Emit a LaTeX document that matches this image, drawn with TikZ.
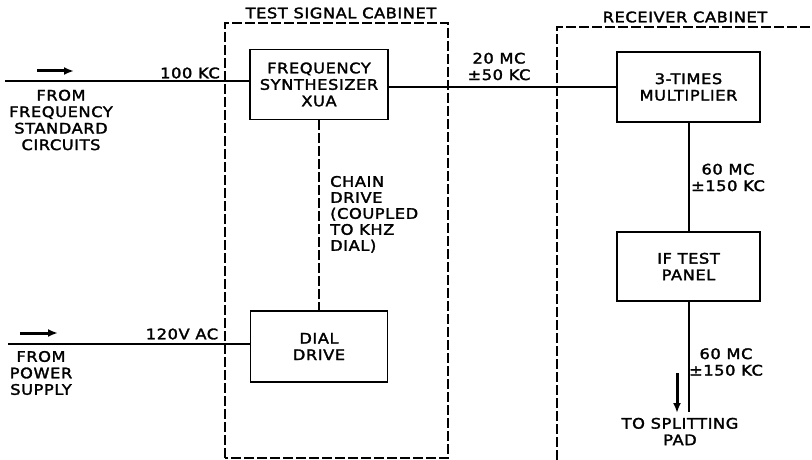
\documentclass[tikz,border=0pt]{standalone}
\usepackage{fontspec}
\setmainfont{DejaVu Sans}[FakeStretch=1.12, LetterSpace=4, FakeBold=2]
\usetikzlibrary{arrows.meta}
\begin{document}
\begin{tikzpicture}[x=1pt,y=-1pt,
  every node/.style={font=\fontsize{14.5}{16.5}\selectfont, inner sep=0pt},
  blk/.style={draw, line width=1.3pt, align=center, minimum width=#1, minimum height=70pt},
  lbl/.style={align=center},
  sig/.style={line width=2pt},
  cab/.style={line width=1.6pt, dash pattern=on 10pt off 3pt},
  flow/.style={line width=3pt, -{Latex[length=10pt,width=8pt]}}]
\useasboundingbox (0,0) rectangle (812,460);

% cabinets
\draw[cab] (225,458) -- (225,23) -- (448,23) -- (448,458) -- cycle;
\draw[cab] (557,460) -- (557,27) -- (812,27);
\node (tsc) at (341,13) {TEST SIGNAL CABINET};
\node (rc) at (685,17) {RECEIVER CABINET};

% blocks
\node[blk=138pt] (synth) at (319,84.5) {FREQUENCY\\SYNTHESIZER\\XUA};
\node[blk=137pt, minimum height=71pt] (dial) at (319,346.5) {DIAL\\DRIVE};
\node[blk=143pt] (mult) at (688.5,87) {3-TIMES\\MULTIPLIER};
\node[blk=143pt, minimum height=69pt] (ifp) at (688.5,266.5) {IF TEST\\PANEL};

% free ends
\coordinate (in1) at (5,81);
\coordinate (in2) at (8,344);
\coordinate (out) at (688.5,412);

% connectors
\draw[sig] (in1) -- (in1 -| synth.west);
\draw[sig] (in2) -- (in2 -| dial.west);
\draw[sig] (synth.east |- mult.west) -- (mult.west);
\draw[sig] (mult.south) -- (ifp.north);
\draw[sig] (ifp.south) -- (out);
\draw[cab] (synth.south) -- (dial.north);

% direction arrows
\coordinate (a1s) at (37,71); \coordinate (a1e) at (74,71);
\coordinate (a2s) at (20,333); \coordinate (a2e) at (58,333);
\coordinate (a3s) at (677,373); \coordinate (a3e) at (677,413);
\draw[flow] (a1s) -- (a1e);
\draw[flow] (a2s) -- (a2e);
\draw[flow] (a3s) -- (a3e);

% labels
\node (l100) at (190,73) {100 KC};
\node[lbl] (lfs) at (61,120) {FROM\\FREQUENCY\\STANDARD\\CIRCUITS};
\node (l120) at (182,334) {120V AC};
\node[lbl] (lps) at (41,373) {FROM\\POWER\\SUPPLY};
\node[lbl, anchor=north west] (lchain) at (330,175) {\begin{tabular}{@{}l@{}}CHAIN\\[-0.5pt]DRIVE\\[-0.5pt](COUPLED\\[-0.5pt]TO KHZ\\[-0.5pt]DIAL)\end{tabular}};
\node[lbl] (l20) at (499,66.5) {20 MC\\±50 KC};
\node[lbl] (l60a) at (728,177.5) {60 MC\\±150 KC};
\node[lbl] (l60b) at (726,362) {60 MC\\±150 KC};
\node[lbl] (lpad) at (680,431.5) {TO SPLITTING\\PAD};
\end{tikzpicture}
\end{document}
